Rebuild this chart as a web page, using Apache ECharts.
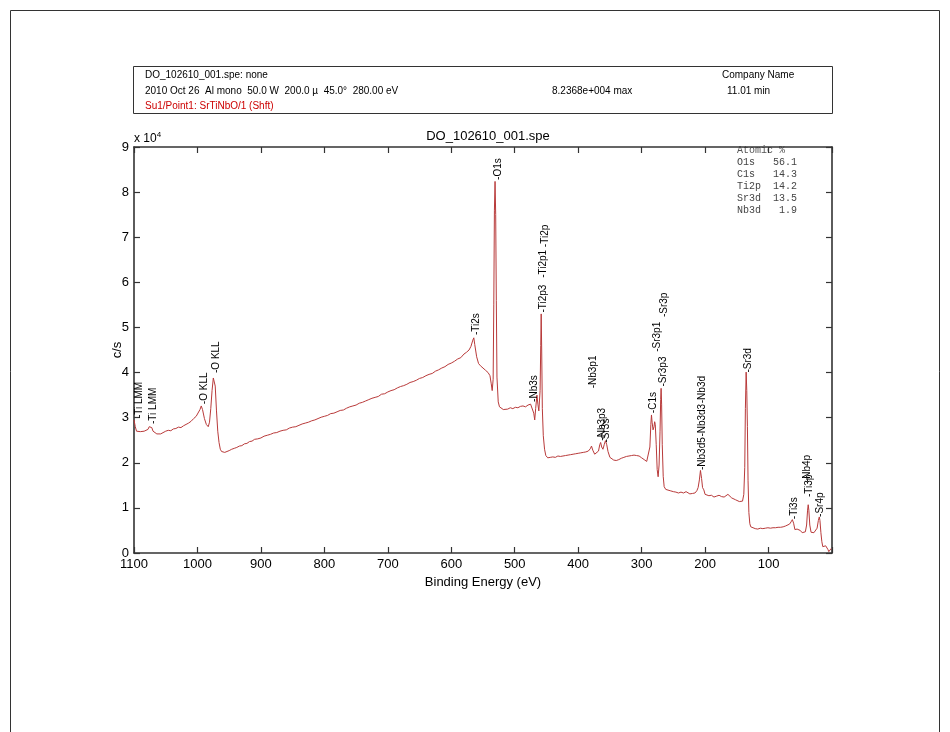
<!DOCTYPE html>
<html><head><meta charset="utf-8">
<script src="https://cdn.jsdelivr.net/npm/echarts@6/dist/echarts.min.js"></script>
<style>html,body{margin:0;padding:0;background:#fff}#c{width:950px;height:732px}</style>
</head><body><div id="c"></div>
<script>
// Binding energy (eV) and intensity (c/s, in units of 1e4)
const energies = [1100,1098,1096,1093,1090,1087,1084,1081,1078,1076,1074,1072,1070,1067,1064,1061,1058,1055,1050,1046,1042,1038,1034,1030,1026,1022,1018,1014,1010,1006,1002,999,996,994,992,989,986,983,981,979,977,975,973.5,972,970,968,966,964,962,960,957,954,950,946,942,938,934,930,926,922,918,914,910,905,900,895,890,885,880,875,870,865,860,855,850,845,840,835,830,825,820,815,810,805,800,795,790,785,780,775,770,765,760,755,750,745,740,735,730,725,720,715,710,705,700,695,690,685,680,675,670,665,660,655,650,645,640,635,630,625,620,615,610,605,600,595,590,585,580,576,572,569,566,564.5,563,560,557,554,550,546,542,539,537,535.5,534,533,532,531,530,529,528,526,524,521,518,515,511,507,503,499,495,491,487,483,479,475,472,470,468.5,467,465,463.5,462,460,459,458.3,457.5,456.5,455,453,451,448,444,440,436,432,428,424,420,416,412,408,404,400,396,392,388,384,381,379,377,374,371,368,366,364.6,363,361,359,357,355,353,350,347,344,340,336,332,328,324,320,316,312,308,304,300,296,292,289,287,285.5,284.5,283.5,282,280.5,279.5,278.5,277,275.5,274,272.5,271,270,269.3,268.5,267.5,266,264.5,262,259,255,250,246,242,238,234,230,227,224,220,216,213,211,209,207.3,205.5,204,202,200,197,194,190,186,182,178,174,170,167,164,161,158,155,152,149,146,143,141,139,137.5,136.5,135.3,134.3,133.3,132.3,131,129.5,128,125,121,117,113,109,105,101,97,93,89,85,81,77,73,70,67,64.5,62.5,60.5,58.5,57,55,52.5,50,47,44,42,40,38.5,37.5,36.5,35,33,31,28.5,26,23.5,21.5,20,19,17.5,16,14.5,12,10,8,6.5,5,3,1.3];
const counts = [2.95,2.80,2.70,2.67,2.69,2.68,2.70,2.71,2.74,2.80,2.84,2.78,2.70,2.66,2.64,2.62,2.64,2.66,2.70,2.72,2.71,2.75,2.76,2.79,2.78,2.82,2.85,2.88,2.92,2.98,3.03,3.07,3.18,3.26,3.18,2.98,2.85,2.80,2.90,3.20,3.60,3.88,3.92,3.70,3.15,2.70,2.45,2.30,2.25,2.24,2.23,2.26,2.27,2.30,2.32,2.34,2.37,2.38,2.42,2.43,2.47,2.48,2.52,2.53,2.55,2.59,2.61,2.63,2.66,2.67,2.70,2.72,2.73,2.77,2.79,2.80,2.83,2.86,2.88,2.90,2.93,2.95,2.98,3.01,3.03,3.05,3.09,3.10,3.13,3.16,3.17,3.21,3.24,3.26,3.28,3.32,3.34,3.37,3.40,3.43,3.45,3.47,3.52,3.53,3.57,3.60,3.62,3.66,3.69,3.71,3.74,3.78,3.80,3.83,3.87,3.89,3.93,3.96,3.98,4.03,4.06,4.10,4.13,4.18,4.21,4.25,4.30,4.33,4.41,4.45,4.50,4.58,4.72,4.77,4.62,4.35,4.20,4.15,4.10,4.05,4.00,3.93,3.75,3.60,3.85,5.5,7.6,8.237,7.5,5.6,3.9,3.35,3.24,3.20,3.18,3.21,3.19,3.22,3.20,3.23,3.22,3.25,3.26,3.24,3.28,3.30,3.27,3.10,2.95,3.20,3.50,3.30,3.15,3.60,4.6,5.30,4.5,3.2,2.60,2.30,2.16,2.11,2.12,2.13,2.12,2.15,2.14,2.15,2.16,2.17,2.18,2.19,2.20,2.21,2.22,2.23,2.24,2.26,2.31,2.37,2.28,2.19,2.20,2.26,2.40,2.45,2.35,2.30,2.40,2.49,2.40,2.25,2.12,2.08,2.06,2.05,2.07,2.10,2.12,2.14,2.15,2.16,2.17,2.16,2.15,2.11,2.07,2.03,2.05,2.35,2.85,3.06,2.90,2.73,2.80,2.91,2.85,2.40,1.85,1.69,1.95,2.70,3.40,3.65,3.30,2.40,1.70,1.47,1.41,1.39,1.38,1.36,1.35,1.33,1.35,1.33,1.36,1.34,1.31,1.32,1.33,1.38,1.45,1.62,1.83,1.65,1.45,1.40,1.30,1.26,1.27,1.28,1.24,1.26,1.28,1.25,1.24,1.27,1.30,1.27,1.22,1.20,1.18,1.16,1.14,1.10,1.15,1.30,1.9,3.2,4.01,3.6,2.8,1.6,0.90,0.65,0.58,0.55,0.54,0.53,0.55,0.54,0.55,0.56,0.55,0.56,0.56,0.57,0.57,0.58,0.60,0.62,0.64,0.69,0.74,0.66,0.52,0.48,0.53,0.55,0.50,0.45,0.43,0.47,0.62,0.95,1.07,0.95,0.62,0.46,0.43,0.45,0.49,0.55,0.72,0.80,0.72,0.45,0.25,0.14,0.12,0.16,0.18,0.08,0.03,0.05,0.10];

// Peak annotations: name, energy (eV), height where label starts (1e4 c/s)
const peakNames   = ['-Ti LMM','-Ti LMM','-O KLL','-O KLL','-Ti2s','-O1s','-Ti2p3','-Ti2p1','-Ti2p','-Nb3s','-Nb3p1','-Nb3p3','-Sr3s','-C1s','-Sr3p3','-Sr3p1','-Sr3p','-Nb3d5','-Nb3d3','-Nb3d','-Sr3d','-Ti3s','-Nb4p','-Ti3p','-Sr4p'];
const peakEnergies= [1092,1069.6,989.8,969.8,561.4,526.3,455.4,455.4,452,469.6,375.6,361.9,355.6,281,266.5,275.3,263.8,204.4,204.4,204.4,132.6,59,38.6,35.4,18.6];
const peakHeights = [2.99,2.86,3.30,3.99,4.83,8.27,5.33,6.10,6.78,3.35,3.65,2.49,2.45,3.10,3.69,4.46,5.23,1.84,2.58,3.32,4.00,0.75,1.57,1.24,0.80];

// Atomic % table
const atomicElems = ['O1s','C1s','Ti2p','Sr3d','Nb3d'];
const atomicPct   = ['56.1','14.3','14.2','13.5','1.9'];

// Header text
const headerFile = 'DO_102610_001.spe: none';
const headerCond = '2010 Oct 26  Al mono  50.0 W  200.0 \u00b5  45.0\u00b0  280.00 eV';
const headerSample = 'Su1/Point1: SrTiNbO/1 (Shft)';
const headerMax = '8.2368e+004 max';
const headerCompany = 'Company Name';
const headerTime = '11.01 min';
const chartTitle = 'DO_102610_001.spe';
const yName = 'c/s';

const FONT = '"Liberation Sans", Arial, sans-serif';
const MONO = '"Liberation Mono", "Courier New", monospace';
const spectrum = energies.map((e, i) => [e, counts[i]]);
const labelData = peakEnergies.map((e, i) => [e, peakHeights[i]]);

const graphics = [
  {type:'rect', shape:{x:10.5,y:10.5,width:929,height:740}, style:{fill:'none',stroke:'#333',lineWidth:1}, silent:true},
  {type:'rect', shape:{x:133.5,y:66.5,width:699,height:47}, style:{fill:'none',stroke:'#333',lineWidth:1}, silent:true},
  {type:'text', x:145, y:75, style:{text:headerFile, font:'10px '+FONT, fill:'#000', verticalAlign:'middle'}},
  {type:'text', x:145, y:91, style:{text:headerCond, font:'10px '+FONT, fill:'#000', verticalAlign:'middle'}},
  {type:'text', x:145, y:106, style:{text:headerSample, font:'10px '+FONT, fill:'#cc0000', verticalAlign:'middle'}},
  {type:'text', x:552, y:91, style:{text:headerMax, font:'10px '+FONT, fill:'#000', verticalAlign:'middle'}},
  {type:'text', x:722, y:75, style:{text:headerCompany, font:'10px '+FONT, fill:'#000', verticalAlign:'middle'}},
  {type:'text', x:727, y:91, style:{text:headerTime, font:'10px '+FONT, fill:'#000', verticalAlign:'middle'}},
  {type:'text', x:134, y:131, style:{text:'{a|x 10}{s|4}', rich:{a:{fontSize:12,fontFamily:FONT,fill:'#000'}, s:{fontSize:8,fontFamily:FONT,fill:'#000',verticalAlign:'top',padding:[0,0,8,0]}}}},
  {type:'text', x:117, y:350, rotation:Math.PI/2, style:{text:yName, font:'13px '+FONT, fill:'#000', align:'center', verticalAlign:'middle'}},
  {type:'text', x:737, y:150, style:{text:'Atomic %', font:'10px '+MONO, fill:'#555', verticalAlign:'middle'}}
];
atomicElems.forEach((el, i) => {
  const y = 162 + i*12.2;
  graphics.push({type:'text', x:737, y:y, style:{text:el, font:'10px '+MONO, fill:'#444', verticalAlign:'middle'}});
  graphics.push({type:'text', x:797, y:y, style:{text:atomicPct[i], font:'10px '+MONO, fill:'#444', align:'right', verticalAlign:'middle'}});
});

const axisLine = {show:true, onZero:false, lineStyle:{color:'#333', width:1.6}};
const tick = {show:true, inside:true, length:6, lineStyle:{color:'#333', width:1.2}};

const chart = echarts.init(document.getElementById('c'), null, {renderer:'canvas'});
chart.setOption({
  animation:false,
  backgroundColor:'#fff',
  title:{text:chartTitle, top:125, left:483, textAlign:'center', textStyle:{fontSize:13, fontWeight:'normal', fontFamily:FONT, color:'#000'}},
  grid:{left:134, right:118, top:147, bottom:179, containLabel:false},
  xAxis:[
    {type:'value', inverse:true, min:0, max:1100, interval:100, position:'bottom',
     name:'Binding Energy (eV)', nameLocation:'middle', nameGap:22,
     nameTextStyle:{fontSize:13, fontFamily:FONT, color:'#000'},
     axisLine:axisLine, axisTick:tick, splitLine:{show:false},
     axisLabel:{fontSize:13, fontFamily:FONT, color:'#000', margin:5, formatter:v => v === 0 ? '' : String(v)}},
    {type:'value', inverse:true, min:0, max:1100, interval:100, position:'top',
     axisLine:axisLine, axisTick:tick, splitLine:{show:false}, axisLabel:{show:false}}
  ],
  yAxis:[
    {type:'value', min:0, max:9, interval:1, position:'left',
     axisLine:axisLine, axisTick:tick, splitLine:{show:false},
     axisLabel:{fontSize:13, fontFamily:FONT, color:'#000', margin:5}},
    {type:'value', min:0, max:9, interval:1, position:'right',
     axisLine:axisLine, axisTick:tick, splitLine:{show:false}, axisLabel:{show:false}}
  ],
  series:[
    {type:'line', data:spectrum, showSymbol:false, symbol:'none', lineStyle:{color:'#b83a3a', width:1}, xAxisIndex:0, yAxisIndex:0, z:2},
    {type:'custom', data:labelData, xAxisIndex:0, yAxisIndex:0, clip:false, z:3,
     renderItem:function(params, api){
       const p = api.coord([api.value(0), api.value(1)]);
       return {type:'text', x:p[0], y:p[1], rotation:Math.PI/2,
         style:{text:peakNames[params.dataIndex], font:'10px '+FONT, fill:'#000', align:'left', verticalAlign:'middle'}};
     }}
  ],
  graphic:graphics
});
</script></body></html>
